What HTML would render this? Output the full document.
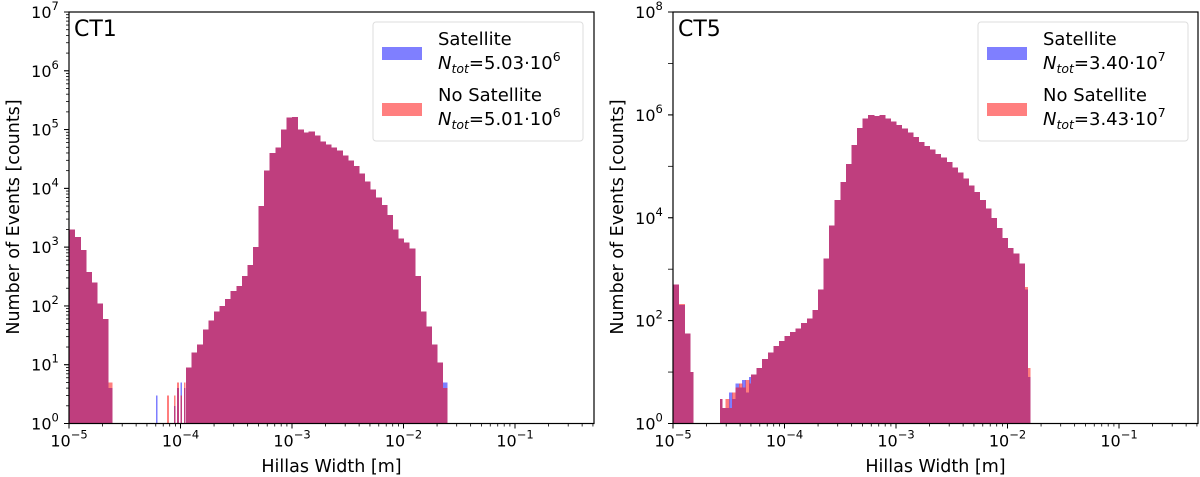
<!DOCTYPE html>
<html><head><meta charset="utf-8"><style>
body{margin:0;background:#fff}
svg{display:block;font-family:"DejaVu Sans","Liberation Sans",sans-serif}
</style></head><body>
<svg id="chart" width="1200" height="477" viewBox="0 0 1200 477" xmlns="http://www.w3.org/2000/svg"></svg>
<script>
// ---- CT1 data (bin edges in log10(width [m]), counts) ----
const ct1Edges = [-5.00,-4.95,-4.90,-4.85,-4.80,-4.75,-4.70,-4.65,-4.617,
 -4.22,-4.21,-4.12,-4.11,-4.06,-4.05,-4.03,-4.02,-4.00,-3.99,-3.97,-3.96,-3.95,
 -3.90,-3.85,-3.80,-3.75,-3.70,-3.65,-3.60,-3.55,-3.50,-3.45,-3.40,-3.35,-3.30,-3.25,-3.20,-3.15,-3.10,-3.05,-3.00,-2.95,-2.90,-2.85,-2.80,-2.75,-2.70,-2.65,-2.60,-2.55,-2.50,-2.45,-2.40,-2.35,-2.30,-2.25,-2.20,-2.15,-2.10,-2.05,-2.00,-1.95,-1.90,-1.85,-1.80,-1.75,-1.70,-1.65,-1.61];
const ct1Sat = [2000,1500,900,380,250,110,60,4, 0,3,0,0,0,2,0,4,0,5,0,4,0,
 9,16,22,40,56,80,100,130,180,220,320,500,1000,5000,20000,40000,50000,100000,160000,165000,100000,90000,93000,80000,63000,56000,50000,44000,36000,30000,24000,18000,13000,9500,7000,5200,3500,2000,1400,1200,950,320,80,45,22,11,5];
const ct1NoSat = [2000,1500,900,380,250,110,60,5, 0,0,0,3,0,3,0,5,0,3,0,5,0,
 9,16,22,40,56,80,100,130,180,220,320,500,1000,5000,20000,40000,50000,100000,160000,165000,100000,90000,93000,80000,63000,56000,50000,44000,36000,30000,24000,18000,13000,9500,7000,5200,3500,2000,1400,1200,950,320,80,45,22,11,4];

// ---- CT5 data ----
const ct5Edges = [-5.00,-4.95,-4.90,-4.85,-4.82,
 -4.58,-4.56,-4.53,-4.50,-4.47,-4.44,-4.41,-4.38,-4.35,-4.32,-4.30,
 -4.25,-4.20,-4.15,-4.10,-4.05,-4.00,-3.95,-3.90,-3.85,-3.80,-3.75,-3.70,-3.65,-3.60,-3.55,-3.50,-3.45,-3.40,-3.35,-3.30,-3.25,-3.20,-3.15,-3.10,-3.05,-3.00,-2.95,-2.90,-2.85,-2.80,-2.75,-2.70,-2.65,-2.60,-2.55,-2.50,-2.45,-2.40,-2.35,-2.30,-2.25,-2.20,-2.15,-2.10,-2.05,-2.00,-1.95,-1.90,-1.85,-1.82,-1.80];
const ct5Sat = [500,200,56,10, 0,
 3,2,2,4,3,6,5,7,4,8,
 9,12,18,24,32,40,50,60,70,90,110,160,400,1600,7000,22000,50000,110000,260000,560000,850000,1000000,950000,1000000,850000,740000,630000,540000,450000,370000,300000,250000,210000,175000,150000,120000,95000,76000,58000,42000,32000,22000,15000,10000,6300,4000,2600,2000,1300,400,8];
const ct5NoSat = [500,210,56,10, 0,
 3,2,3,2,4,5,6,5,7,6,
 9,12,18,24,32,40,50,60,70,90,110,160,400,1600,7000,22000,50000,110000,260000,560000,850000,1000000,950000,1000000,850000,740000,630000,540000,450000,370000,300000,250000,210000,175000,150000,120000,95000,76000,58000,42000,32000,22000,15000,10000,6300,4000,2600,2000,1300,450,12];

const xTickExps = [-5,-4,-3,-2,-1];
const ct1YTickExps = [0,1,2,3,4,5,6,7];
const ct5YTickExps = [0,2,4,6,8];

const NS = "http://www.w3.org/2000/svg";
const svg = document.getElementById('chart');
function el(tag, attrs, parent){const e=document.createElementNS(NS,tag);for(const k in attrs)e.setAttribute(k,attrs[k]);(parent||svg).appendChild(e);return e;}

function panel(cfg){
  const g = el('g',{});
  
  
  const L=cfg.left,R=cfg.right,T=12,B=423.5;
  const xmin=-5,xmax=-5+(R-L)/111.5;
  const sx=v=>L+(v-xmin)/(xmax-xmin)*(R-L);
  const sy=c=>B-(Math.log10(c)-0)/(cfg.ymax)*(B-T);
  const plot = el('g',{'shape-rendering':'crispEdges'},g);
  
  
  [[cfg.sat,'#0000ff','satellite'],[cfg.nosat,'#ff0000','no-satellite']].forEach(([arr,col,nm])=>{
    const sg=el('g',{fill:col,opacity:0.5},plot);
    
    
    for(let i=0;i<arr.length;i++){
      if(arr[i]<1) continue;
      const x0=sx(cfg.edges[i]),x1=sx(cfg.edges[i+1]);
      const y=sy(arr[i]);
      const r=el('rect',{x:x0,y:y,width:Math.max(x1-x0,1)+0.6,height:B-y},sg);
      
      
    }
  });
  // x ticks
  const xa=el('g',{},g);
  
  
  for(let d=-5;d<=0;d++){for(let m=1;m<10;m++){const v=d+Math.log10(m);if(v<xmin-1e-6||v>xmax)continue;const x=sx(v);
    el('line',{x1:x,x2:x,y1:B,y2:B+(m===1?5:3),stroke:'#000','stroke-width':m===1?1:0.8},xa);}}
  xTickExps.forEach(e=>{const t=el('text',{x:sx(e),y:B+23,'font-size':16,'text-anchor':'middle'},xa);
    
    t.appendChild(document.createTextNode('10'));const s=el('tspan',{dy:-8,'font-size':11.5},t);s.textContent='−'+Math.abs(e);});
  const xl=el('text',{x:(L+R)/2,y:472,'font-size':17.5,'text-anchor':'middle'},g);xl.textContent='Hillas Width [m]';
  
  // y ticks
  const ya=el('g',{},g);
  
  
  for(let d=0;d<cfg.ymax;d++){for(let m=1;m<10;m++){const y=sy(Math.pow(10,d)*m);
    el('line',{x1:L,x2:L-(m===1?5:(cfg.ymax>7?0:3)),y1:y,y2:y,stroke:'#000','stroke-width':0.8},ya);}}
  el('line',{x1:L,x2:L-5,y1:T,y2:T,stroke:'#000'},ya);
  cfg.yticks.forEach(e=>{const y=sy(Math.pow(10,e));el('line',{x1:L,x2:L-5,y1:y,y2:y,stroke:'#000'},ya);
    const t=el('text',{x:L-24,y:y+6,'font-size':16,'text-anchor':'middle'},ya);
    
    t.appendChild(document.createTextNode('10'));const s=el('tspan',{dy:-8,'font-size':11.5},t);s.textContent=String(e);});
  const yl=el('text',{x:0,y:0,'font-size':17.5,'text-anchor':'middle',transform:`translate(${L-50},217) rotate(-90)`},g);
  yl.textContent='Number of Events [counts]';
  
  // frame
  el('rect',{x:L,y:T,width:R-L,height:B-T,fill:'none',stroke:'#000','stroke-width':1.2},g);
  const tt=el('text',{x:L+5,y:T+24,'font-size':22},g);tt.textContent=cfg.title;
  
  // legend
  const lg=el('g',{},g);
  
  
  const lx=cfg.legendX;
  el('rect',{x:lx,y:22,width:210,height:119,rx:3,fill:'#fff','fill-opacity':0.85,stroke:'#ddd'},lg);
  el('rect',{x:lx+9,y:47,width:40,height:13,fill:'rgba(0,0,255,0.5)'},lg);
  el('rect',{x:lx+9,y:103,width:40,height:13,fill:'rgba(255,0,0,0.5)'},lg);
  const addT=(y,txt)=>{const t=el('text',{x:lx+65,y:y,'font-size':18},lg);t.textContent=txt;return t;};
  addT(45,'Satellite'); addT(101,'No Satellite');
  [[69,cfg.n1],[125,cfg.n2]].forEach(([y,n])=>{const t=el('text',{x:lx+65,y:y,'font-size':18},lg);
    const a=el('tspan',{'font-style':'italic'},t);a.textContent='N';
    const b=el('tspan',{'font-style':'italic','font-size':12.5,dy:4},t);b.textContent='tot';
    const c=el('tspan',{dy:-4},t);c.textContent='='+n[0]+'·10';
    const d=el('tspan',{dy:-8,'font-size':12.5},t);d.textContent=n[1];});
}
panel({name:'ct1',title:'CT1',left:69,right:594,ymax:7,yticks:ct1YTickExps,edges:ct1Edges,sat:ct1Sat,nosat:ct1NoSat,legendX:373,n1:['5.03','6'],n2:['5.01','6']});
panel({name:'ct5',title:'CT5',left:673,right:1198,ymax:8,yticks:ct5YTickExps,edges:ct5Edges,sat:ct5Sat,nosat:ct5NoSat,legendX:978,n1:['3.40','7'],n2:['3.43','7']});
</script>
</body></html>
